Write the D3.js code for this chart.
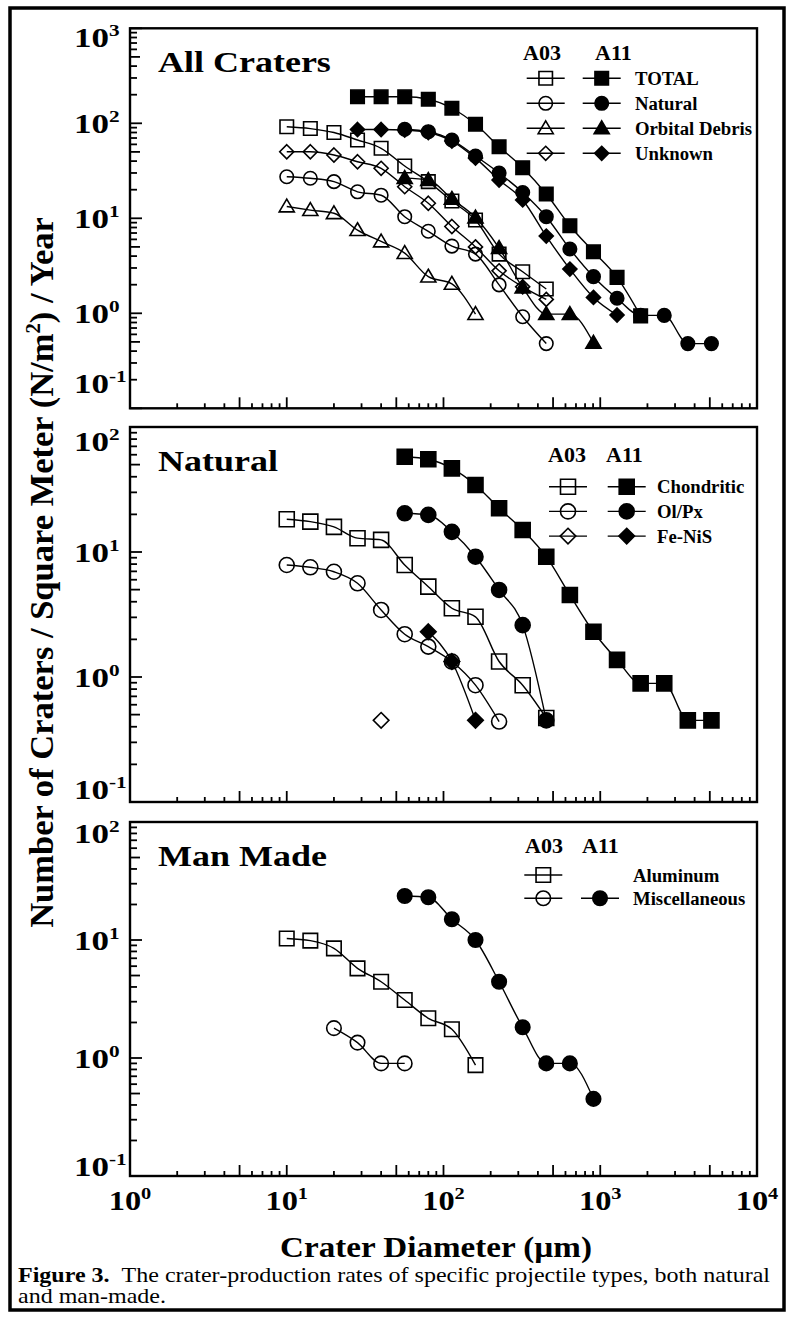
<!DOCTYPE html>
<html><head><meta charset="utf-8">
<script src="https://cdn.jsdelivr.net/npm/d3@7"></script>
<style>html,body{margin:0;padding:0;background:#fff;}svg{display:block;}text{font-family:"Liberation Serif","Times New Roman",Times,serif;}</style>
</head><body>
<svg id="chart" width="789" height="1342"></svg>
<script>
// ---------------- DATA ----------------
// crater diameter bins (µm), sqrt(2) spacing
const diameters = [10, 14.14, 20, 28.28, 40, 56.57, 80, 113.1, 160, 226.3, 320, 452.5, 640, 905.1, 1280, 1810, 2560, 3620, 5120];
const xTickExps = [0, 1, 2, 3, 4];

// Panel 1: All Craters
const allTotalA03   = [92, 88, 80, 66.7, 54.6, 35.5, 24.3, 15.2, 9.6, 4.2, 2.74, 1.8];
const allTotalA11   = [null, null, null, 190, 190, 190, 179, 144, 97.6, 56.7, 34.1, 18.0, 8.36, 4.45, 2.39, 0.94];
const allNaturalA03 = [27.4, 26.4, 24.3, 19.0, 17.5, 10.4, 7.3, 5.1, 4.2, 1.99, 0.92, 0.48];
const allNaturalA11 = [null, null, null, null, null, 86.5, 81.6, 66.7, 45.3, 30.0, 18.7, 10.4, 4.75, 2.43, 1.44, 0.95, 0.95, 0.48, 0.48];
const allOrbitalA03 = [13.3, 12.2, 11.3, 7.5, 5.7, 4.3, 2.43, 2.04, 0.98];
const allOrbitalA11 = [null, null, null, null, null, 26.5, 25.3, 16.0, 10.2, 4.86, 1.87, 0.98, 0.98, 0.49];
const allUnknownA03 = [50.2, 50.2, 46.4, 39.4, 33.6, 21.5, 14.4, 8.2, 5.0, 2.8, 1.9, 1.4];
const allUnknownA11 = [null, null, null, 86, 86, 85, 80, 65, 43, 25.3, 15.6, 6.5, 2.92, 1.47, 0.96];

// Panel 2: Natural
const natChondA03 = [18.3, 17.5, 15.9, 12.9, 12.5, 7.87, 5.28, 3.55, 3.03, 1.33, 0.86, 0.47];
const natChondA11 = [null, null, null, null, null, 57.8, 55.2, 46.7, 34.4, 22.4, 15.0, 9.17, 4.53, 2.3, 1.37, 0.89, 0.89, 0.45, 0.45];
const natOlPxA03  = [7.87, 7.55, 6.95, 5.62, 3.44, 2.2, 1.75, 1.33, 0.86, 0.44];
const natOlPxA11  = [null, null, null, null, null, 20.4, 19.8, 14.5, 9.17, 4.97, 2.6, 0.45];
const natFeNiSA03 = [null, null, null, null, 0.45];
const natFeNiSA11 = [null, null, null, null, null, null, 2.3, 1.33, 0.45];

// Panel 3: Man Made
const mmAlumA03 = [10.3, 9.87, 8.5, 5.75, 4.43, 3.1, 2.17, 1.75, 0.87];
const mmMiscA03 = [null, null, 1.79, 1.35, 0.90, 0.90];
const mmMiscA11 = [null, null, null, null, null, 23.6, 23.0, 15.0, 10.0, 4.43, 1.82, 0.90, 0.90, 0.45];

const legendHeaders = ["A03", "A11"];
const panelTitles = ["All Craters", "Natural", "Man Made"];
const legendLabels1 = ["TOTAL", "Natural", "Orbital Debris", "Unknown"];
const legendLabels2 = ["Chondritic", "Ol/Px", "Fe-NiS"];
const legendLabels3 = ["Aluminum", "Miscellaneous"];

// ---------------- LAYOUT ----------------
const FONT = '"Liberation Serif","Times New Roman",Times,serif';
const svg = d3.select('#chart');
const X0 = 130, X1 = 757;
const x = d3.scaleLog().domain([1, 1e4]).range([X0, X1]);

const panels = [
  { title: panelTitles[0], top: 28.3, bottom: 408.3, domain: [0.1, 1000], sym: 13.5, firstDy: 19, lastDy: -15,
    series: [
      { v: allTotalA03, shape: 'square', filled: false },
      { v: allNaturalA03, shape: 'circle', filled: false },
      { v: allOrbitalA03, shape: 'triangle', filled: false },
      { v: allUnknownA03, shape: 'diamond', filled: false },
      { v: allTotalA11, shape: 'square', filled: true },
      { v: allNaturalA11, shape: 'circle', filled: true },
      { v: allOrbitalA11, shape: 'triangle', filled: true },
      { v: allUnknownA11, shape: 'diamond', filled: true }
    ],
    legend: { hdr03: 523, hdr11: 595, hdrY: 60, c03: 545.7, c11: 601.7, labelX: 635, row0: 78.3, dy: 25,
      rows: [
        { label: legendLabels1[0], shape: 'square', o: true, f: true },
        { label: legendLabels1[1], shape: 'circle', o: true, f: true },
        { label: legendLabels1[2], shape: 'triangle', o: true, f: true },
        { label: legendLabels1[3], shape: 'diamond', o: true, f: true }
      ] } },
  { title: panelTitles[1], top: 427, bottom: 802, domain: [0.1, 100], sym: 15, firstDy: 24, lastDy: -3,
    series: [
      { v: natChondA03, shape: 'square', filled: false },
      { v: natOlPxA03, shape: 'circle', filled: false },
      { v: natFeNiSA03, shape: 'diamond', filled: false },
      { v: natChondA11, shape: 'square', filled: true },
      { v: natOlPxA11, shape: 'circle', filled: true },
      { v: natFeNiSA11, shape: 'diamond', filled: true }
    ],
    legend: { hdr03: 548, hdr11: 606, hdrY: 461.7, c03: 568, c11: 626.7, labelX: 657, row0: 486.7, dy: 24.7,
      rows: [
        { label: legendLabels2[0], shape: 'square', o: true, f: true },
        { label: legendLabels2[1], shape: 'circle', o: true, f: true },
        { label: legendLabels2[2], shape: 'diamond', o: true, f: true }
      ] } },
  { title: panelTitles[2], top: 822, bottom: 1176, domain: [0.1, 100], sym: 14.5, firstDy: 21, lastDy: 0,
    series: [
      { v: mmAlumA03, shape: 'square', filled: false },
      { v: mmMiscA03, shape: 'circle', filled: false },
      { v: mmMiscA11, shape: 'circle', filled: true }
    ],
    legend: { hdr03: 525, hdr11: 582, hdrY: 853.3, c03: 543.3, c11: 600, labelX: 633, row0: 875, dy: 23.3,
      rows: [
        { label: legendLabels3[0], shape: 'square', o: true, f: false },
        { label: legendLabels3[1], shape: 'circle', o: true, f: true }
      ] } }
];

function symPath(shape, s) {
  const h = s / 2;
  if (shape === 'square') return `M${-h},${-h}H${h}V${h}H${-h}Z`;
  if (shape === 'circle') return `M${h},0A${h},${h} 0 1,1 ${-h},0A${h},${h} 0 1,1 ${h},0Z`;
  if (shape === 'triangle') { const w = s * 0.56, t = s * 0.95; return `M0,${-t * 0.58}L${w},${t * 0.42}L${-w},${t * 0.42}Z`; }
  if (shape === 'diamond') { const a = s * 0.52; return `M0,${-a}L${a},0L0,${a}L${-a},0Z`; }
}

function drawSym(g, shape, filled, s, cx, cy) {
  g.append('path').attr('d', symPath(shape, s))
    .attr('transform', `translate(${cx},${cy})`)
    .attr('fill', filled ? '#000' : 'none')
    .attr('stroke', '#000').attr('stroke-width', 1.6);
}

function pow10Label(g, exp, px, py, size, supSize, anchor, S) {
  const t = g.append('text').attr('transform', `translate(${px},${py}) scale(${S},1)`)
    .attr('font-family', FONT).attr('font-weight', 'bold').attr('font-size', size)
    .attr('text-anchor', anchor).attr('fill', '#000');
  t.append('tspan').text('10');
  t.append('tspan').attr('dy', -size * 0.4).attr('font-size', supSize).text(String(exp));
  return t;
}

// outer frame
svg.append('rect').attr('x', 10).attr('y', 8).attr('width', 774).attr('height', 1302)
  .attr('fill', 'none').attr('stroke', '#000').attr('stroke-width', 3.5);

panels.forEach((p, pi) => {
  const y = d3.scaleLog().domain(p.domain).range([p.bottom, p.top]);
  const g = svg.append('g');

  // box
  g.append('rect').attr('x', X0).attr('y', p.top).attr('width', X1 - X0).attr('height', p.bottom - p.top)
    .attr('fill', 'none').attr('stroke', '#000').attr('stroke-width', 2.4);

  // x ticks (inside, bottom)
  const xt = [];
  for (let e = 0; e < 4; e++) for (let m = 1; m <= 9; m++) xt.push({ v: m * Math.pow(10, e), m });
  xt.push({ v: 1e4, m: 1 });
  xt.forEach(d => {
    const len = (d.m === 1 || d.m === 5) ? 11 : 5;
    g.append('line').attr('x1', x(d.v)).attr('x2', x(d.v)).attr('y1', p.bottom).attr('y2', p.bottom - len)
      .attr('stroke', '#000').attr('stroke-width', 1.8);
  });

  // y ticks (inside, left)
  const e0 = Math.round(Math.log10(p.domain[0])), e1 = Math.round(Math.log10(p.domain[1]));
  for (let e = e0; e <= e1; e++) {
    for (let m = 1; m <= 9; m++) {
      if (e === e1 && m > 1) break;
      const v = m * Math.pow(10, e);
      const len = m === 1 ? 12 : (m === 5 ? 10 : 7);
      g.append('line').attr('x1', X0).attr('x2', X0 + len).attr('y1', y(v)).attr('y2', y(v))
        .attr('stroke', '#000').attr('stroke-width', 1.8);
    }
    let by = y(Math.pow(10, e)) + 10;
    by = Math.max(by, p.top + p.firstDy);
    by = Math.min(by, p.bottom + p.lastDy);
    pow10Label(g, e, 74, by, 28, 17, 'start', 1.25);
  }

  // title
  g.append('text').attr('transform', `translate(158,${p.top + 44}) scale(1.2,1)`)
    .attr('font-family', FONT).attr('font-weight', 'bold').attr('font-size', 30).text(p.title);

  // series
  const line = d3.line().defined(d => d.v != null)
    .x(d => x(d.d)).y(d => y(d.v)).curve(d3.curveMonotoneX);
  p.series.forEach(s => {
    const pts = s.v.map((v, i) => ({ d: diameters[i], v }));
    g.append('path').attr('d', line(pts)).attr('fill', 'none').attr('stroke', '#000').attr('stroke-width', 1.4);
    pts.filter(d => d.v != null).forEach(d => drawSym(g, s.shape, s.filled, p.sym, x(d.d), y(d.v)));
  });

  // legend
  const L = p.legend;
  [[legendHeaders[0], L.hdr03], [legendHeaders[1], L.hdr11]].forEach(([t, hx]) => {
    g.append('text').attr('transform', `translate(${hx},${L.hdrY}) scale(1.1,1)`)
      .attr('font-family', FONT).attr('font-weight', 'bold').attr('font-size', 20).text(t);
  });
  L.rows.forEach((r, i) => {
    const ry = L.row0 + i * L.dy;
    if (r.o) {
      g.append('line').attr('x1', L.c03 - 19).attr('x2', L.c03 + 19).attr('y1', ry).attr('y2', ry).attr('stroke', '#000').attr('stroke-width', 1.4);
      drawSym(g, r.shape, false, p.sym, L.c03, ry);
    }
    if (r.f) {
      g.append('line').attr('x1', L.c11 - 19).attr('x2', L.c11 + 19).attr('y1', ry).attr('y2', ry).attr('stroke', '#000').attr('stroke-width', 1.4);
      drawSym(g, r.shape, true, p.sym, L.c11, ry);
    }
    g.append('text').attr('transform', `translate(${L.labelX},${ry + 6.5}) scale(1.04,1)`)
      .attr('font-family', FONT).attr('font-weight', 'bold').attr('font-size', 18).text(r.label);
  });
});

// x tick labels (bottom panel only)
xTickExps.forEach(e => pow10Label(svg, e, x(Math.pow(10, e)), 1210, 27, 17, 'middle', 1.2));

// x axis title
const xt = svg.append('text').attr('font-family', FONT).attr('font-weight', 'bold').attr('font-size', 30)
  .attr('text-anchor', 'middle').text('Crater Diameter (\u00b5m)');
{
  const w = xt.node().getBBox().width;
  xt.attr('transform', `translate(436,1257) scale(${312 / w},1)`);
}

// y axis title
const yt = svg.append('text').attr('font-family', FONT).attr('font-weight', 'bold').attr('font-size', 30)
  .attr('text-anchor', 'middle');
yt.append('tspan').text('Number of Craters / Square Meter (N/m');
yt.append('tspan').attr('dy', -11).attr('font-size', 18).text('2');
yt.append('tspan').attr('dy', 11).text(') / Year');
{
  const w = yt.node().getBBox().width;
  yt.attr('transform', `translate(53,572.5) rotate(-90) scale(${711 / w},1.15)`);
}

// caption
const c1 = svg.append('text').attr('font-family', FONT).attr('font-size', 20).attr('fill', '#000');
c1.append('tspan').attr('font-weight', 'bold').text('Figure 3.');
c1.append('tspan').text('\u00a0\u00a0The crater-production rates of specific projectile types, both natural');
const c2 = svg.append('text').attr('font-family', FONT).attr('font-size', 20).attr('fill', '#000')
  .text('and man-made.');
{
  const w = c1.node().getBBox().width;
  const sc = 753 / w;
  c1.attr('transform', `translate(18,1282) scale(${sc},1)`);
  c2.attr('transform', `translate(18,1303) scale(${sc},1)`);
}
</script>
</body></html>
